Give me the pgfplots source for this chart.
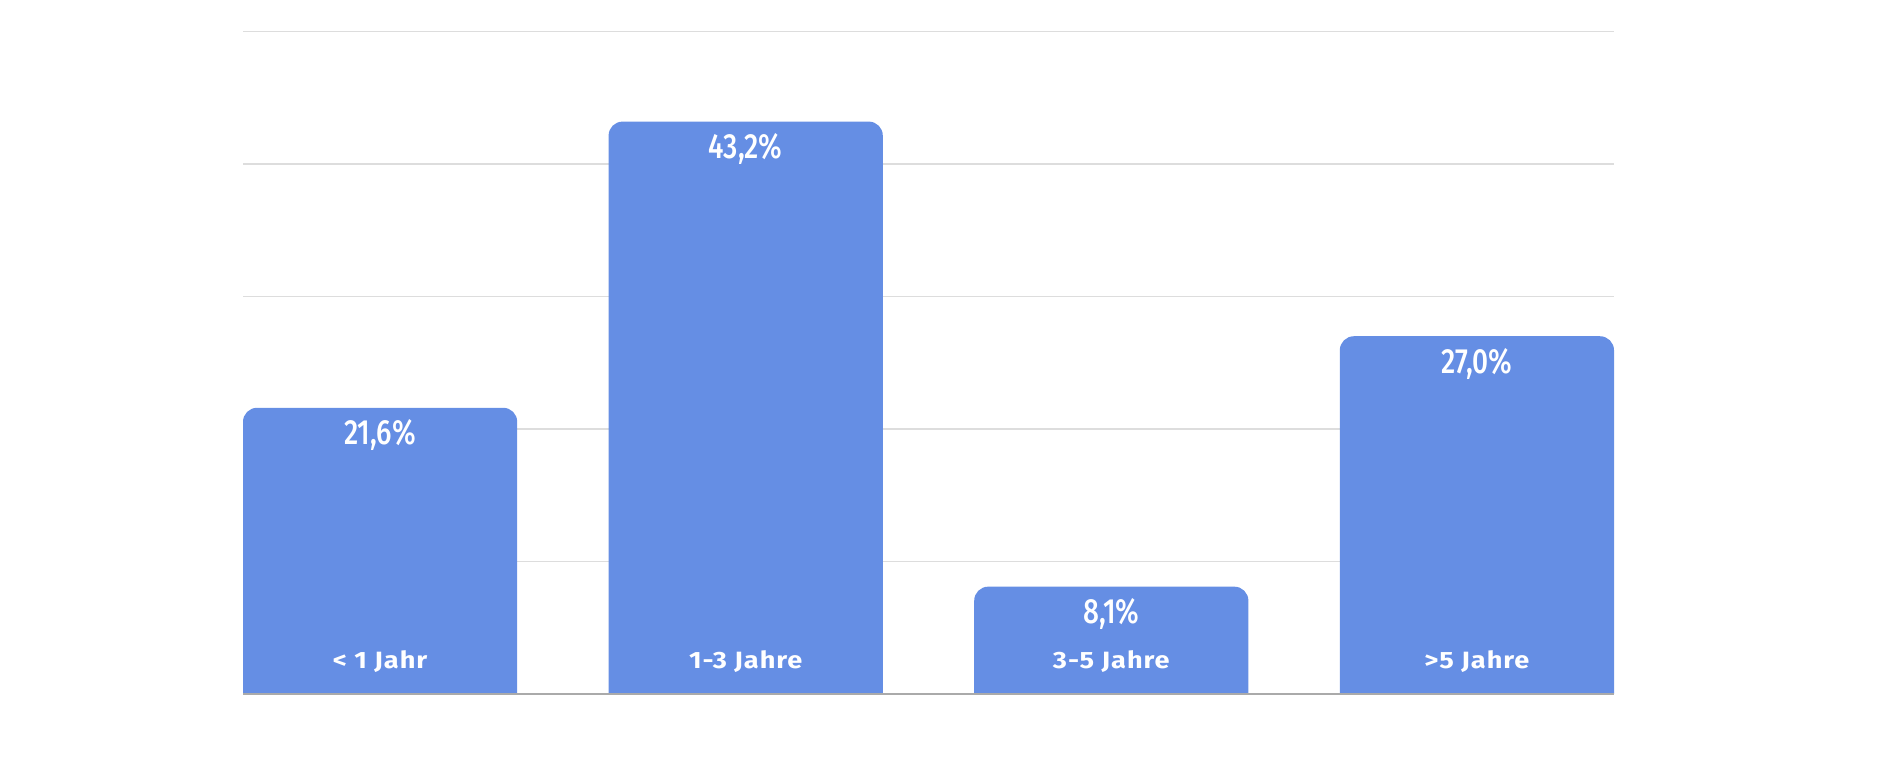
\documentclass[border=0pt]{standalone}
\usepackage{pgfplots}
\pgfplotsset{compat=1.18}
\usepackage{pgfplotstable}
\usepackage{fontspec}
\setmainfont{Fira Sans}
\newfontfamily\valfont{Fira Sans Medium}[FakeStretch=0.8]
\newfontfamily\catfont{Fira Sans}[FakeStretch=1.15, LetterSpace=4]
\definecolor{barblue}{RGB}{101,142,228}
\definecolor{gridgray}{RGB}{221,221,221}
\definecolor{basegray}{RGB}{170,170,170}

% Anteil in Prozent je Kategorie
\pgfplotstableread{
x v cat
0 21.6 {<\ 1 Jahr}
1 43.2 {1-3 Jahre}
2 8.1 {3-5 Jahre}
3 27.0 {>5 Jahre}
}\data

\begin{document}
\begin{tikzpicture}
\path[use as bounding box] (0,0) rectangle (951pt,384.5pt);
% the y axis runs 3 units below the visible base line (y=3), so the lower
% rounded corners of the bars lie in a band that is covered in white
\begin{axis}[
  name=ax,
  at={(121.5pt,17.625pt)}, anchor=south west,
  scale only axis, width=685.5pt, height=351.125pt,
  xmin=-0.375, xmax=3.375,
  ymin=0, ymax=53,
  axis line style={draw=none},
  xtick=\empty,
  ytick={13,23,33,43,53},
  yticklabels={},
  major tick length=0pt,
  ymajorgrids,
  grid style={gridgray, line width=0.6pt},
]
\addplot[ybar, bar width=0.75, fill=barblue, draw=none, rounded corners=7pt,
  point meta=\thisrow{v},
  nodes near coords={\pgfmathprintnumber[fixed,fixed zerofill,precision=1,use comma,assume math mode=true]{\pgfplotspointmeta}\%},
  every node near coord/.append style={anchor=base, yshift=-18.5pt, inner sep=0pt, text=white,
    font=\valfont\fontsize{17.5}{19}\selectfont}]
  table[x=x, y expr=\thisrow{v}+3]{\data};
% category names inside the bars
\addplot[draw=none, mark=none,
  point meta=explicit symbolic,
  nodes near coords,
  every node near coord/.append style={anchor=base, yshift=12.5pt, inner sep=0pt, text=white,
    font=\catfont\bfseries\fontsize{11.8}{13}\selectfont}]
  table[x=x, y expr=3, meta=cat]{\data};
\end{axis}
\fill[white] ([xshift=-3pt,yshift=-3pt]ax.south west) rectangle ([xshift=3pt,yshift=19.875pt]ax.south east);
\draw[basegray, line width=0.8pt] ([yshift=19.875pt]ax.south west) -- ([yshift=19.875pt]ax.south east);
\end{tikzpicture}
\end{document}
